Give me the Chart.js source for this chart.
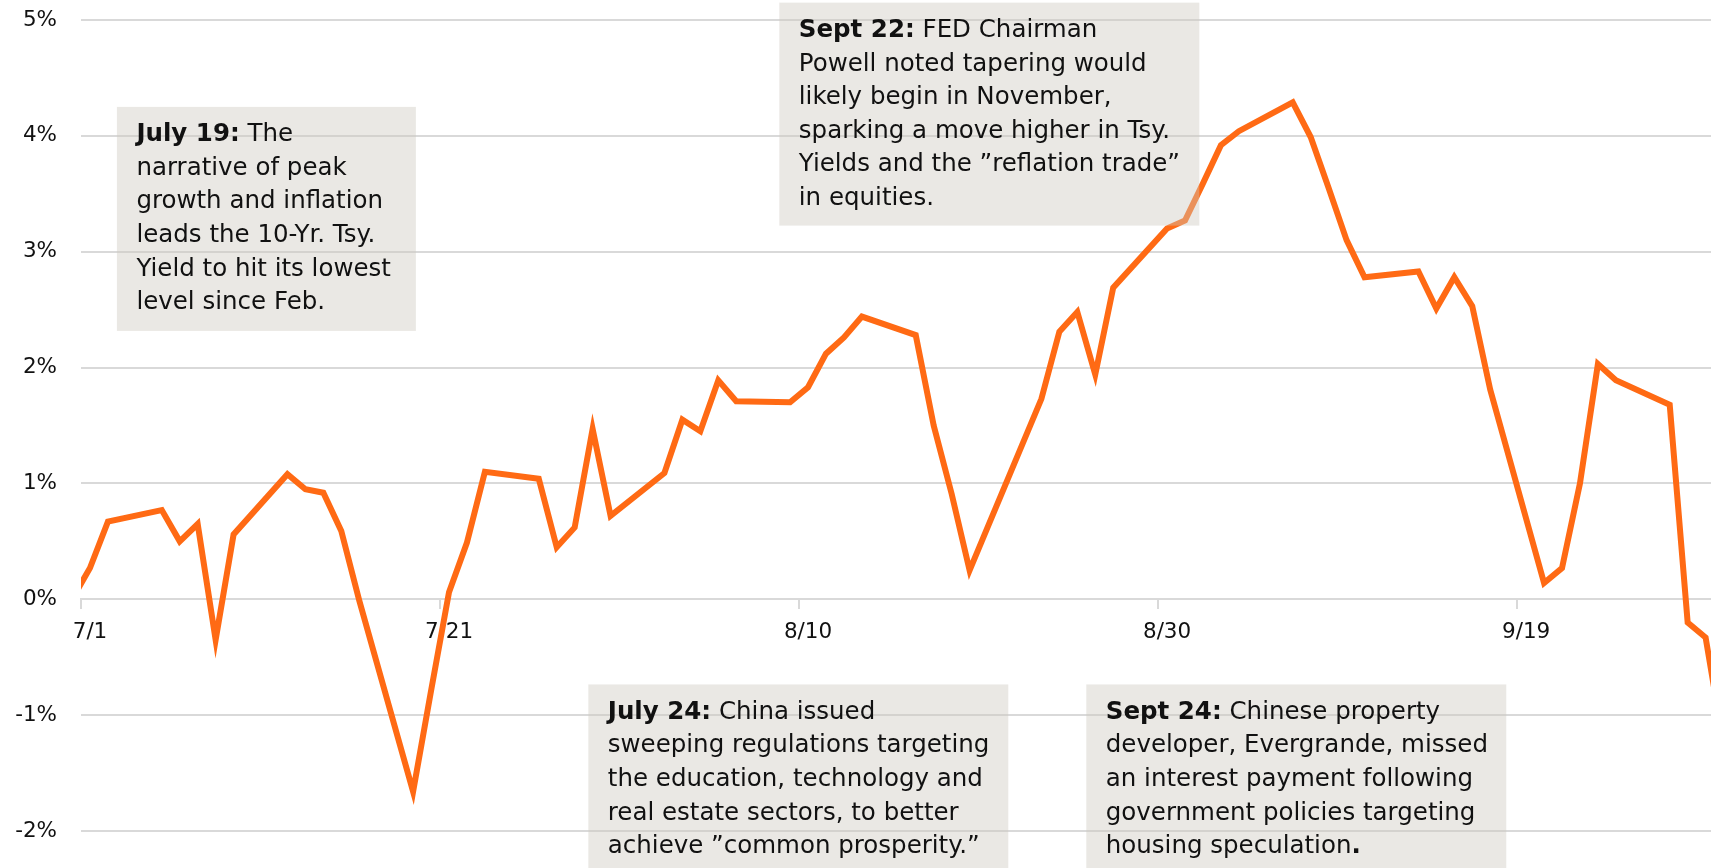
<!DOCTYPE html>
<html>
<head>
<meta charset="utf-8">
<script src="https://cdn.jsdelivr.net/npm/chart.js@4.4.0/dist/chart.umd.min.js"></script>
<style>
  html, body { margin: 0; padding: 0; background: #fff; }
  #wrap { width: 1711px; height: 868px; }
</style>
</head>
<body>
<div id="wrap"><canvas id="ChartReturn"></canvas></div>
<script>
// ngay giao dich (2021) va loi nhuan tich luy (%)
const dates = [
  "6/30", "7/1", "7/2", "7/5", "7/6", "7/7", "7/8", "7/9",
  "7/12", "7/13", "7/14", "7/15", "7/16", "7/19", "7/20", "7/21", "7/22", "7/23",
  "7/26", "7/27", "7/28", "7/29", "7/30", "8/2", "8/3", "8/4", "8/5", "8/6",
  "8/9", "8/10", "8/11", "8/12", "8/13", "8/16", "8/17", "8/18", "8/19", "8/20",
  "8/23", "8/24", "8/25", "8/26", "8/27", "8/30", "8/31", "9/1", "9/2", "9/3",
  "9/6", "9/7", "9/8", "9/9", "9/10", "9/13", "9/14", "9/15", "9/16", "9/17",
  "9/20", "9/21", "9/22", "9/23", "9/24", "9/27", "9/28", "9/29", "9/30"
];
const returns = [
  0.00, 0.27, 0.67, 0.77, 0.50, 0.65, -0.35, 0.56,
  1.08, 0.95, 0.92, 0.59, -0.01, -1.66, -0.79, 0.06, 0.49, 1.10,
  1.04, 0.45, 0.62, 1.47, 0.72, 1.09, 1.55, 1.45, 1.89, 1.71,
  1.70, 1.83, 2.12, 2.26, 2.44, 2.28, 1.50, 0.91, 0.25, 0.62,
  1.73, 2.31, 2.48, 1.94, 2.69, 3.20, 3.27, 3.59, 3.92, 4.04,
  4.29, 3.99, 3.55, 3.10, 2.78, 2.83, 2.51, 2.78, 2.53, 1.81,
  0.14, 0.27, 1.00, 2.03, 1.89, 1.68, -0.20, -0.33, -1.25
];
const tickLabels = ["7/1", "7/21", "8/10", "8/30", "9/19"];
const yTicks = [-2, -1, 0, 1, 2, 3, 4, 5];

// ghi chu tren bieu do
const notes = [
  { day: 2.0, pct: 4.25, w: 299, h: 224,
    lines: [[["July 19:", true], [" The", false]], [["narrative of peak", false]], [["growth and inflation", false]],
            [["leads the 10-Yr. Tsy.", false]], [["Yield to hit its lowest", false]], [["level since Feb.", false]]] },
  { day: 38.9, pct: 5.15, w: 420, h: 223,
    lines: [[["Sept 22:", true], [" FED Chairman", false]], [["Powell noted tapering would", false]],
            [["likely begin in November,", false]], [["sparking a move higher in Tsy.", false]],
            [["Yields and the \u201dreflation trade\u201d", false]], [["in equities.", false]]] },
  { day: 28.26, pct: -0.735, w: 420, h: 190,
    lines: [[["July 24:", true], [" China issued", false]], [["sweeping regulations targeting", false]],
            [["the education, technology and", false]], [["real estate sectors, to better", false]],
            [["achieve \u201dcommon prosperity.\u201d", false]]] },
  { day: 56.0, pct: -0.735, w: 420, h: 190,
    lines: [[["Sept 24:", true], [" Chinese property", false]], [["developer, Evergrande, missed", false]],
            [["an interest payment following", false]], [["government policies targeting", false]],
            [["housing speculation", false], [".", true]]] }
];

function dayOf(label) {
  const p = label.split("/");
  return (Date.UTC(2021, +p[0] - 1, +p[1]) - Date.UTC(2021, 6, 1)) / 864e5;
}

const tickDays = tickLabels.map(dayOf);
// diem nam giua o ngay
const points = dates.map((d, i) => ({ x: dayOf(d) + 0.5, y: returns[i] }));

const notePlugin = {
  id: "notes",
  afterDatasetsDraw(chart) {
    const ctx = chart.ctx;
    const xs = chart.scales.x, ys = chart.scales.y;
    ctx.save();
    notes.forEach(n => {
      const left = xs.getPixelForValue(n.day);
      const top = ys.getPixelForValue(n.pct);
      ctx.fillStyle = "rgba(205, 200, 190, 0.42)";
      ctx.fillRect(left, top, n.w, n.h);
      ctx.fillStyle = "#111";
      ctx.textBaseline = "middle";
      n.lines.forEach((line, k) => {
        let x = left + 19.5;
        const y = top + 28 + k * 33.6;
        line.forEach(seg => {
          ctx.font = (seg[1] ? "bold " : "") + "24.5px 'DejaVu Sans'";
          ctx.fillText(seg[0], x, y);
          x += ctx.measureText(seg[0]).width;
        });
      });
    });
    ctx.restore();
  }
};

const ctx = document.getElementById("ChartReturn").getContext("2d");
const myChart = new Chart(ctx, {
  type: "line",
  data: {
    datasets: [{
      data: points,
      borderColor: "#ff6a14",
      borderWidth: 6,
      pointRadius: 0,
      tension: 0,
      clip: 0
    }]
  },
  options: {
    responsive: true,
    maintainAspectRatio: false,
    devicePixelRatio: 1,
    animation: false,
    layout: { padding: { top: 20, bottom: 37, left: 0, right: 0 } },
    plugins: { legend: { display: false }, tooltip: { enabled: false } },
    scales: {
      x: {
        type: "linear",
        position: { y: 0 },
        min: 0,
        max: 90.8,
        afterBuildTicks: (scale) => { scale.ticks = tickDays.map(v => ({ value: v })); },
        afterFit: (scale) => {
          scale.height = 0;
          scale.paddingTop = scale.paddingBottom = scale.paddingLeft = scale.paddingRight = 0;
        },
        grid: { drawOnChartArea: false, tickLength: 9, color: "#d9d9d9", lineWidth: 2 },
        border: { display: true, color: "#d9d9d9", width: 2 },
        ticks: {
          autoSkip: false, maxRotation: 0, labelOffset: 9, padding: 11,
          color: "#111", font: { family: "DejaVu Sans", size: 21.5 },
          callback: (v) => tickLabels[tickDays.indexOf(v)]
        }
      },
      y: {
        min: -2,
        max: 5,
        afterFit: (scale) => {
          scale.width = 81;
          scale.paddingTop = scale.paddingBottom = 0;
        },
        afterBuildTicks: (scale) => { scale.ticks = yTicks.map(v => ({ value: v })); },
        grid: { color: "#d9d9d9", lineWidth: 2, drawTicks: false },
        border: { display: false },
        ticks: {
          padding: 24, color: "#111", font: { family: "DejaVu Sans", size: 21.5 },
          callback: (v) => v + "%"
        }
      }
    }
  },
  plugins: [notePlugin]
});
</script>
</body>
</html>
